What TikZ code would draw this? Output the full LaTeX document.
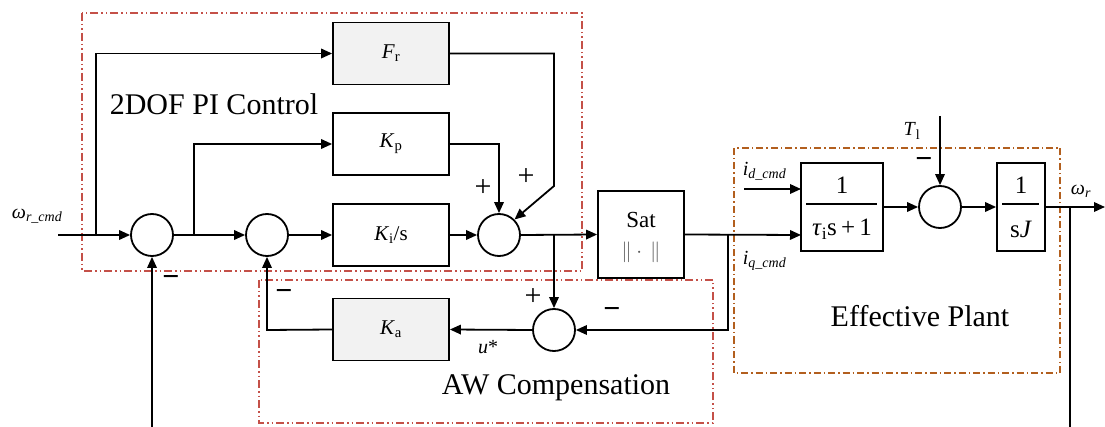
\documentclass[tikz,border=0pt]{standalone}
\usepackage{fontspec}
\setmainfont{Liberation Serif}
\usetikzlibrary{arrows.meta}
\definecolor{awred}{RGB}{196,80,72}
\definecolor{plbrown}{RGB}{178,95,30}
\definecolor{boxgray}{RGB}{242,242,242}
\newcommand{\fsz}[1]{\fontsize{#1}{#1}\selectfont}
\begin{document}
\begin{tikzpicture}[x=1pt,y=-1pt,line width=1.8pt,
  >={Triangle[length=11pt,width=9.5pt]},
  blk/.style={draw,line width=1.8pt,minimum width=116pt,minimum height=62pt,inner sep=0pt,font=\fsz{21}},
  sumc/.style={circle,draw,line width=1.8pt,minimum size=42pt,inner sep=0pt},
  sgn/.style={font=\fsz{30},inner sep=0pt,anchor=base},
  msgn/.style={font=\bfseries\fsz{30},inner sep=0pt,anchor=base},
  bigtxt/.style={font=\fsz{30},inner sep=0pt},
  sig/.style={font=\fsz{20},inner sep=0pt},
  redbox/.style={draw=awred,line width=1.6pt,dash pattern=on 8pt off 3pt on 1.5pt off 3pt on 1.5pt off 3pt},
  brownbox/.style={draw=plbrown,line width=1.6pt,dash pattern=on 7pt off 3pt on 1.5pt off 3pt},
  fracnum/.style={font=\fsz{25},inner sep=0pt}]
\useasboundingbox (0,0) rectangle (1105,427);
% group boxes
\draw[redbox] (82,13) rectangle (582,271);
\draw[redbox] (259,280) rectangle (713,423);
\draw[brownbox] (734,148) rectangle (1060,373);
% blocks
\node[blk,fill=boxgray] (Fr) at (391,53.5) {\textit{F}\textsubscript{r}};
\node[blk] (Kp) at (391,144) {\textit{K}\textsubscript{p}};
\node[blk] (Ki) at (391,235) {\textit{K}\textsubscript{i}/s};
\node[blk,fill=boxgray] (Ka) at (391,329.5) {\textit{K}\textsubscript{a}};
\node[draw,line width=1.8pt,minimum width=86pt,minimum height=87pt,inner sep=0pt] (Sat) at (641,234.5) {};
\node[font=\fsz{23},inner sep=0pt] (sattxt) at (641,220) {Sat};
\node[font=\fsz{20},inner sep=0pt,text=black!65] (normtxt) at (641,252) {$\|\cdot\,\|$};
\node[draw,line width=1.8pt,minimum width=82pt,minimum height=88pt,inner sep=0pt] (G1) at (842,207) {};
\node[fracnum] (g1n) at (842,185) {1};
\coordinate (g1l) at (806,204);
\coordinate (g1r) at (877,204);
\draw[line width=1.3pt] (g1l) -- (g1r);
\node[fracnum] (g1d) at (842,229) {\textit{τ}\textsubscript{i}s\,+\,1};
\node[draw,line width=1.8pt,minimum width=48pt,minimum height=88pt,inner sep=0pt] (G2) at (1021,207) {};
\node[fracnum] (g2n) at (1021,185) {1};
\coordinate (g2l) at (1002,204);
\coordinate (g2r) at (1039,204);
\draw[line width=1.3pt] (g2l) -- (g2r);
\node[fracnum] (g2d) at (1021,229) {s\textit{J}};
% sums
\node[sumc] (s1) at (152,235) {};
\node[sumc] (s2) at (267,235) {};
\node[sumc] (s3) at (499,235) {};
\node[sumc] (s4) at (554,330) {};
\node[sumc] (s5) at (940,207) {};
% coordinates
\coordinate (in) at (58,235);
\coordinate (b1) at (96,235);
\coordinate (b1u) at (96,53.5);
\coordinate (b2) at (194,235);
\coordinate (b2u) at (194,144);
\coordinate (kpc) at (499,144);
\coordinate (frc) at (554,53.5);
\coordinate (frd) at (554,186);
\coordinate (b3) at (554,235);
\coordinate (b4) at (728,235);
\coordinate (b4d) at (728,330);
\coordinate (kac) at (267,330);
\coordinate (idin) at (744,189);
\coordinate (iqin) at (801,235);
\coordinate (idend) at (801,189);
\coordinate (tl) at (940,116);
\coordinate (out) at (1105,207);
\coordinate (b5) at (1070,207);
\coordinate (b5d) at (1070,427);
\coordinate (fb) at (152,427);
% connectors
\draw[->] (in) -- (s1.west);
\draw[->] (b1) -- (b1u) -- (Fr.west);
\draw[->] (s1.east) -- (s2.west);
\draw[->] (b2) -- (b2u) -- (Kp.west);
\draw[->] (s2.east) -- (Ki.west);
\draw[->] (Ki.east) -- (s3.west);
\draw[->] (Kp.east) -- (kpc) -- (s3.north);
\draw[->] (Fr.east) -- (frc) -- (frd) -- (s3.north east);
\draw[->] (s3.east) -- (Sat.west);
\draw[->] (b3) -- (s4.north);
\draw[->] (Sat.east) -- (iqin);
\draw[->] (b4) -- (b4d) -- (s4.east);
\draw[->] (s4.west) -- (Ka.east);
\draw[->] (Ka.west) -- (kac) -- (s2.south);
\draw[->] (fb) -- (s1.south);
\draw[->] (idin) -- (idend);
\draw[->] (G1.east) -- (s5.west);
\draw[->] (tl) -- (s5.north);
\draw[->] (s5.east) -- (G2.west);
\draw[->] (G2.east) -- (out);
\draw (b5) -- (b5d);
% signs (base anchors: glyph centre about 7.5pt above baseline)
\node[msgn] (m1) at (171,286.5) {−};
\node[msgn] (m2) at (284,300.5) {−};
\node[sgn] (p1) at (483,196.5) {+};
\node[sgn] (p2) at (526,185.5) {+};
\node[sgn] (p3) at (533,305.5) {+};
\node[msgn] (m3) at (612,318.5) {−};
\node[msgn] (m4) at (924,168.5) {−};
% labels
\node[sig,anchor=west] (wrc) at (11,216) {\textit{ω}\textsubscript{\textit{r\_cmd}}};
\node[sig,anchor=west] (idl) at (742,171) {\textit{i}\textsubscript{\textit{d\_cmd}}};
\node[sig,anchor=west] (iql) at (742,261) {\textit{i}\textsubscript{\textit{q\_cmd}}};
\node[sig] (tll) at (912,131) {\textit{T}\textsubscript{l}};
\node[sig] (wrl) at (1081,191) {\textit{ω}\textsubscript{\textit{r}}};
\node[sig] (ustar) at (488,347) {\textit{u}*};
\node[bigtxt] (t2dof) at (214,104) {2DOF PI Control};
\node[bigtxt] (taw) at (556,388) {AW Compensation};
\node[bigtxt] (tep) at (920,316) {Effective Plant};
\end{tikzpicture}
\end{document}
